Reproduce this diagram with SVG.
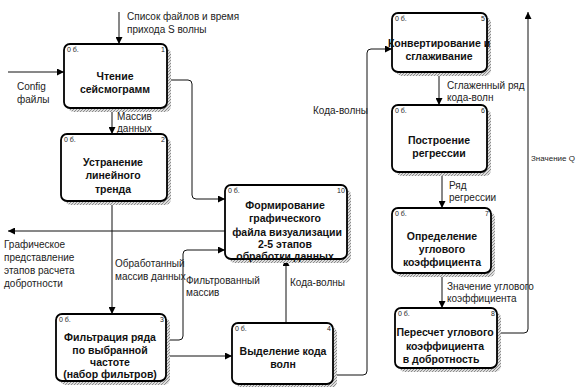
<svg xmlns="http://www.w3.org/2000/svg" width="578" height="387" viewBox="0 0 578 387">
<style>
.box{fill:#fff;stroke:#000;stroke-width:1.8}
.sh{fill:url(#hatch)}
.t{font-family:"Liberation Sans",Arial,sans-serif;font-size:10.5px;font-weight:bold;fill:#111;text-anchor:middle}
.c{font-family:"Liberation Sans",Arial,sans-serif;font-size:7px;fill:#222}
.l{font-family:"Liberation Sans",Arial,sans-serif;font-size:10px;fill:#222}
.ln{fill:none;stroke:#111;stroke-width:1}
</style>
<defs>
<pattern id="hatch" width="3" height="3" patternUnits="userSpaceOnUse">
<rect width="3" height="3" fill="#ddd"/>
<path d="M0,3 L3,0" stroke="#777" stroke-width="0.8"/>
</pattern>
<marker id="arr" viewBox="0 0 8 8" refX="8" refY="4" markerWidth="7" markerHeight="7" markerUnits="userSpaceOnUse" orient="auto">
<path d="M0,0 L8,4 L0,8 z" fill="#000"/>
</marker>
</defs>
<rect width="578" height="387" fill="#fff"/>

<g id="connectors">
<path class="ln" d="M119,12 V44" marker-end="url(#arr)"/>
<path class="ln" d="M8,72 H64" marker-end="url(#arr)"/>
<path class="ln" d="M112,108 V134" marker-end="url(#arr)"/>
<path class="ln" d="M167,80 H188 q4,0 4,4 V195 q0,4 4,4 H225" marker-end="url(#arr)"/>
<path class="ln" d="M112,201 V314" marker-end="url(#arr)"/>
<path class="ln" d="M225,231 H8" marker-end="url(#arr)"/>
<path class="ln" d="M165,340 H179 q4,0 4,-4 V254 q0,-4 4,-4 H225" marker-end="url(#arr)"/>
<path class="ln" d="M165,356 H232" marker-end="url(#arr)"/>
<path class="ln" d="M286,323 V259" marker-end="url(#arr)"/>
<path class="ln" d="M333,375 H363 q4,0 4,-4 V53 q0,-4 4,-4 H392" marker-end="url(#arr)"/>
<path class="ln" d="M439,72 V105" marker-end="url(#arr)"/>
<path class="ln" d="M442,172 V208" marker-end="url(#arr)"/>
<path class="ln" d="M442,273 V308" marker-end="url(#arr)"/>
<path class="ln" d="M497,333 H524 q4,0 4,-4 V12" marker-end="url(#arr)"/>

<text class="l" x="127" y="20">Список файлов и время</text>
<text class="l" x="127" y="33">прихода S волны</text>
<text class="l" x="17" y="90">Config</text>
<text class="l" x="17" y="103">файлы</text>
<text class="l" x="117" y="120">Массив</text>
<text class="l" x="117" y="132">данных</text>
<text class="l" x="4" y="248">Графическое</text>
<text class="l" x="4" y="261">представление</text>
<text class="l" x="4" y="274">этапов расчета</text>
<text class="l" x="4" y="287">добротности</text>
<text class="l" x="115" y="267">Обработанный</text>
<text class="l" x="115" y="280">массив данных</text>
<text class="l" x="186" y="284">Фильтрованный</text>
<text class="l" x="186" y="296">массив</text>
<text class="l" x="290" y="286">Кода-волны</text>
<text class="l" x="313" y="114">Кода-волны</text>
<text class="l" x="447" y="89">Сглаженный ряд</text>
<text class="l" x="447" y="101">кода-волн</text>
<text class="l" x="449" y="189">Ряд</text>
<text class="l" x="449" y="201">регрессии</text>
<text class="l" x="447" y="290">Значение углового</text>
<text class="l" x="447" y="302">коэффициента</text>
<text class="l" x="531" y="161" style="font-size:8px">Значение Q</text>
</g>

<g id="n1">
<rect class="sh" x="68" y="48" width="103" height="64" rx="6"/>
<rect class="box" x="64" y="44" width="103" height="64" rx="6"/>
<text class="c" x="67" y="52">0 б.</text><text class="c" x="161" y="52">1</text>
<text class="t" x="115" y="80">Чтение</text>
<text class="t" x="115" y="93">сейсмограмм</text>
</g>

<g id="n2">
<rect class="sh" x="65" y="138" width="106" height="67" rx="6"/>
<rect class="box" x="61" y="134" width="106" height="67" rx="6"/>
<text class="c" x="64" y="142">0 б.</text><text class="c" x="161" y="142">2</text>
<text class="t" x="113" y="166">Устранение</text>
<text class="t" x="113" y="179">линейного</text>
<text class="t" x="113" y="193">тренда</text>
</g>

<g id="n3">
<rect class="sh" x="60" y="318" width="110" height="67" rx="6"/>
<rect class="box" x="56" y="314" width="110" height="67" rx="6"/>
<text class="c" x="59" y="322">0 б.</text><text class="c" x="160" y="322">3</text>
<text class="t" x="110" y="341">Фильтрация ряда</text>
<text class="t" x="110" y="354">по выбранной</text>
<text class="t" x="110" y="366">частоте</text>
<text class="t" x="110" y="378">(набор фильтров)</text>
</g>

<g id="n4">
<rect class="sh" x="236" y="327" width="101" height="61" rx="6"/>
<rect class="box" x="232" y="323" width="101" height="61" rx="6"/>
<text class="c" x="235" y="331">0 б.</text><text class="c" x="327" y="331">4</text>
<text class="t" x="283" y="355">Выделение кода</text>
<text class="t" x="283" y="368">волн</text>
</g>

<g id="n10">
<rect class="sh" x="229" y="189" width="122" height="74" rx="6"/>
<rect class="box" x="225" y="185" width="122" height="74" rx="6"/>
<text class="c" x="228" y="193">0 б.</text><text class="c" x="337" y="193">10</text>
<text class="t" x="285" y="209">Формирование</text>
<text class="t" x="285" y="222">графического</text>
<text class="t" x="287" y="236">файла визуализации</text>
<text class="t" x="285" y="248">2-5 этапов</text>
<text class="t" x="285" y="260">обработки данных</text>
</g>

<g id="n5">
<rect class="sh" x="396" y="17" width="95" height="59" rx="6"/>
<rect class="box" x="392" y="13" width="95" height="59" rx="6"/>
<text class="c" x="395" y="21">0 б.</text><text class="c" x="481" y="21">5</text>
<text class="t" x="439" y="47">Конвертирование и</text>
<text class="t" x="439" y="60">сглаживание</text>
</g>

<g id="n6">
<rect class="sh" x="396" y="109" width="95" height="67" rx="6"/>
<rect class="box" x="392" y="105" width="95" height="67" rx="6"/>
<text class="c" x="395" y="113">0 б.</text><text class="c" x="481" y="113">6</text>
<text class="t" x="439" y="144">Построение</text>
<text class="t" x="439" y="157">регрессии</text>
</g>

<g id="n7">
<rect class="sh" x="396" y="212" width="99" height="65" rx="6"/>
<rect class="box" x="392" y="208" width="99" height="65" rx="6"/>
<text class="c" x="395" y="216">0 б.</text><text class="c" x="485" y="216">7</text>
<text class="t" x="442" y="240">Определение</text>
<text class="t" x="442" y="253">углового</text>
<text class="t" x="442" y="266">коэффициента</text>
</g>

<g id="n8">
<rect class="sh" x="399" y="312" width="102" height="60" rx="6"/>
<rect class="box" x="395" y="308" width="102" height="60" rx="6"/>
<text class="c" x="398" y="316">0 б.</text><text class="c" x="491" y="316">8</text>
<text class="t" x="445" y="336">Пересчет углового</text>
<text class="t" x="445" y="350">коэффициента</text>
<text class="t" x="441" y="363">в добротность</text>
</g>
</svg>
